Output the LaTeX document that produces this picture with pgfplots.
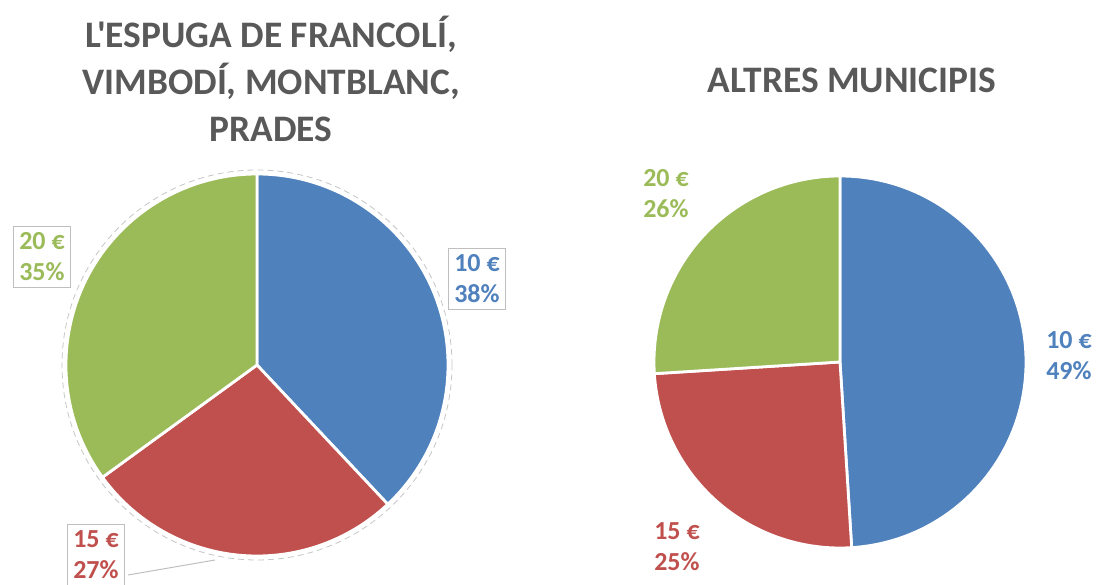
\documentclass[border=0pt]{standalone}
\usepackage{pgfplots}
\pgfplotsset{compat=1.18}
\usepackage{fontspec}
\setmainfont{Carlito}
\newfontfamily\titlefont{Carlito}[Ligatures=ResetAll]
\definecolor{cblue}{HTML}{4F81BD}
\definecolor{cred}{HTML}{C0504D}
\definecolor{cgreen}{HTML}{9BBB59}
\definecolor{ctitle}{HTML}{595959}
\definecolor{cbox}{HTML}{BFBFBF}
% slice: cx, cy, r (px), cumulative start %, cumulative end %, colour
\newcommand\pieslice[6]{%
  \fill[#6, draw=white, line width=1.4pt, line join=round]
    (axis cs:#1,#2) -- ++({90-3.6*(#4)}:{(#3)*0.5pt})
    arc[start angle={90-3.6*(#4)}, end angle={90-3.6*(#5)}, radius={(#3)*0.5pt}] -- cycle;}
\begin{document}
\begin{tikzpicture}
\clip (0,0) rectangle (549pt,292pt);
\begin{axis}[
  width=549pt, height=292pt, scale only axis,
  xmin=0, xmax=1098, ymin=0, ymax=584,
  hide axis, clip=false,
]
% ---- left pie: 10 EUR 38 %, 15 EUR 27 %, 20 EUR 35 %
\draw[gray!45, densely dashed, line width=0.4pt] (axis cs:257,219) circle[radius=97.5pt];
\pieslice{257}{219}{191}{0}{38}{cblue}
\pieslice{257}{219}{191}{38}{65}{cred}
\pieslice{257}{219}{191}{65}{100}{cgreen}
% ---- right pie: 10 EUR 49 %, 15 EUR 25 %, 20 EUR 26 %
\pieslice{840}{222}{186}{0}{49}{cblue}
\pieslice{840}{222}{186}{49}{74}{cred}
\pieslice{840}{222}{186}{74}{100}{cgreen}
% ---- titles
\node[font=\titlefont\bfseries\fontsize{18.7}{23.5}\selectfont, text=ctitle, align=center] at (axis cs:271,505)
  {L'ESPUGA DE FRANCOLÍ,\\VIMBODÍ, MONTBLANC,\\PRADES};
\node[font=\titlefont\bfseries\fontsize{18.7}{23.5}\selectfont, text=ctitle, align=center] at (axis cs:852,504)
  {ALTRES MUNICIPIS};
% ---- labels left
\draw[cbox, line width=0.5pt] (axis cs:128,9) -- (axis cs:215,24);
\node[font=\bfseries\fontsize{13}{15.5}\selectfont, text=cblue, align=left, draw=cbox, line width=0.5pt, fill=white, inner sep=3pt] at (axis cs:477,305) {10 €\\38\%};
\node[font=\bfseries\fontsize{13}{15.5}\selectfont, text=cgreen, align=left, draw=cbox, line width=0.5pt, fill=white, inner sep=3pt] at (axis cs:42,327) {20 €\\35\%};
\node[font=\bfseries\fontsize{13}{15.5}\selectfont, text=cred, align=left, draw=cbox, line width=0.5pt, fill=white, inner sep=3pt] at (axis cs:96,29) {15 €\\27\%};
% ---- labels right
\node[font=\bfseries\fontsize{13}{15.5}\selectfont, text=cgreen, align=left] at (axis cs:666,390) {20 €\\26\%};
\node[font=\bfseries\fontsize{13}{15.5}\selectfont, text=cred, align=left] at (axis cs:677,37) {15 €\\25\%};
\node[font=\bfseries\fontsize{13}{15.5}\selectfont, text=cblue, align=left] at (axis cs:1069,228) {10 €\\49\%};
\end{axis}
\end{tikzpicture}
\end{document}
